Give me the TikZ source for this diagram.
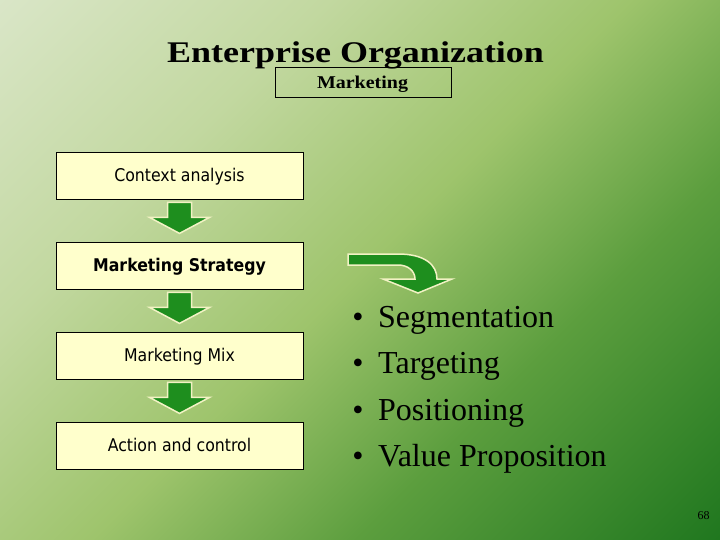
\documentclass[tikz,border=0pt]{standalone}
\usepackage{fontspec}
\setmainfont{Liberation Serif}
\newfontfamily\boxfont{DejaVu Sans Condensed}
\definecolor{bgA}{HTML}{E0EAD0}
\definecolor{bgB}{HTML}{DAE6C8}
\definecolor{bgC}{HTML}{C2D8A0}
\definecolor{bgD}{HTML}{9EC46C}
\definecolor{bgE}{HTML}{5C9E3E}
\definecolor{bgF}{HTML}{1E761E}
\definecolor{boxfill}{HTML}{FFFFCC}
\definecolor{arrowgreen}{HTML}{1E8E1E}
\definecolor{arrowedge}{HTML}{F2F2C4}
\pgfdeclarehorizontalshading{slidebg}{100bp}{color(0bp)=(bgA); color(14bp)=(bgB); color(33bp)=(bgC); color(50bp)=(bgD); color(65bp)=(bgE); color(86bp)=(bgF); color(100bp)=(bgF)}
\begin{document}
\begin{tikzpicture}[x=1pt,y=-1pt,
  stepbox/.style={draw=black, line width=0.8pt, fill=boxfill, minimum width=247pt, minimum height=47pt, inner sep=0pt, text height=12.8pt, text depth=0pt, font=\boxfont\fontsize{17.5}{20}\selectfont},
  blockarrow/.style={fill=arrowgreen, draw=arrowedge, line width=1.5pt, line join=miter},
  bullettext/.style={anchor=base west, inner sep=0pt, font=\fontsize{32}{36}\selectfont},
  bulletdot/.style={anchor=base, inner sep=0pt, font=\fontsize{32}{36}\selectfont}]
\shade[shading=slidebg, shading angle=-45] (0,0) rectangle (720,540);
\useasboundingbox (0,0) rectangle (720,540);

% title
\node[anchor=base, inner sep=0pt, font=\bfseries\fontsize{30}{34}\selectfont] (title) at (355.5,63) {\scalebox{1.2}[1]{Enterprise Organization}};
\node[draw=black, line width=0.8pt, minimum width=176pt, minimum height=30pt, inner sep=0pt] (mk) at (363,82) {};
\node[anchor=base, inner sep=0pt, font=\bfseries\fontsize{18}{21}\selectfont] (mktext) at (362.5,89) {\scalebox{1.11}[1]{Marketing}};

% boxes
\node[stepbox] (b1) at (179.5,175.5) {Context analysis};
\node[stepbox] (b2) at (179.5,265.5) {\bfseries Marketing Strategy};
\node[stepbox] (b3) at (179.5,355.5) {Marketing Mix};
\node[stepbox] (b4) at (179.5,445.5) {Action and control};

% down block arrows
\foreach \a in {b1,b2,b3}{
  \draw[blockarrow] ([shift={(-12,3)}]\a.south) -- ++(24,0) -- ++(0,15) -- ++(18,0) -- ++(-30,16) -- ++(-30,-16) -- ++(18,0) -- cycle;
}

% curved arrow
\draw[blockarrow] (348,254) -- (398,254) .. controls (425,254) and (437,265) .. (437,279) -- (452,279) -- (418,293) -- (383,279) -- (415,279) .. controls (415,271) and (408,265) .. (398,265) -- (348,265) -- cycle;

% bullets
\node[bulletdot] (d1) at (358,327) {•};
\node[bulletdot] (d2) at (358,373) {•};
\node[bulletdot] (d3) at (358,420) {•};
\node[bulletdot] (d4) at (358,466) {•};
\node[bullettext] (t1) at (378,327) {Segmentation};
\node[bullettext] (t2) at (378,373) {Targeting};
\node[bullettext] (t3) at (378,420) {Positioning};
\node[bullettext] (t4) at (378,466) {Value Proposition};

% page number
\node[anchor=base, inner sep=0pt, font=\fontsize{12}{14}\selectfont] (pg) at (703.5,519) {68};
\end{tikzpicture}
\end{document}
